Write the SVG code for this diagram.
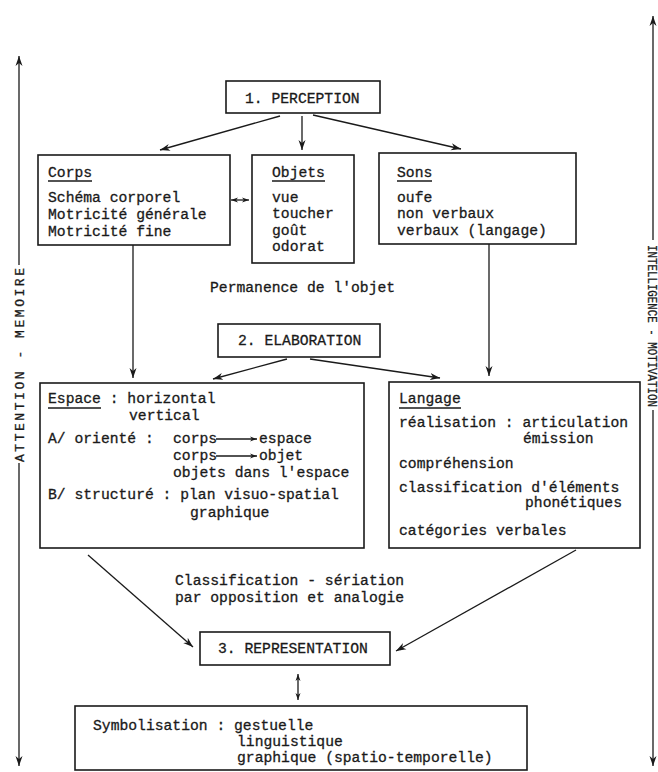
<svg xmlns="http://www.w3.org/2000/svg" width="658" height="772" viewBox="0 0 658 772">
<defs>
<style>
text{font-family:"Liberation Mono","DejaVu Sans Mono",monospace;font-size:14.7px;fill:#1a1a1a;stroke:#1a1a1a;stroke-width:0.3}
.box{fill:none;stroke:#1a1a1a;stroke-width:1.6}
.ln{fill:none;stroke:#1a1a1a;stroke-width:1.3}
.ul{stroke:#1a1a1a;stroke-width:1.4}
.side{font-size:13px}
</style>
<marker id="ah" markerUnits="userSpaceOnUse" markerWidth="11" markerHeight="8" refX="10" refY="4" orient="auto-start-reverse">
<path d="M0,0.5 L10,4 L0,7.5 L3,4 z" fill="#1a1a1a"/>
</marker>
<marker id="sm" markerUnits="userSpaceOnUse" markerWidth="8" markerHeight="6" refX="7" refY="3" orient="auto-start-reverse">
<path d="M0,0.5 L7,3 L0,5.5 L2,3 z" fill="#1a1a1a"/>
</marker>
</defs>
<rect width="658" height="772" fill="#ffffff"/>

<g id="connectors">
<line class="ln" x1="280" y1="116" x2="160" y2="150" marker-end="url(#ah)"/>
<line class="ln" x1="302" y1="116" x2="302" y2="150" marker-end="url(#ah)"/>
<line class="ln" x1="313" y1="115" x2="461" y2="149" marker-end="url(#ah)"/>
<line class="ln" x1="231" y1="200" x2="249" y2="200" marker-start="url(#sm)" marker-end="url(#sm)"/>
<line class="ln" x1="133" y1="245" x2="133" y2="378" marker-end="url(#ah)"/>
<line class="ln" x1="489" y1="244" x2="489" y2="376" marker-end="url(#ah)"/>
<line class="ln" x1="287" y1="359" x2="213" y2="379" marker-end="url(#ah)"/>
<line class="ln" x1="310" y1="359" x2="440" y2="378" marker-end="url(#ah)"/>
<line class="ln" x1="88" y1="555" x2="193" y2="647" marker-end="url(#ah)"/>
<line class="ln" x1="576" y1="550" x2="396" y2="651" marker-end="url(#ah)"/>
<line class="ln" x1="298" y1="674" x2="298" y2="700" marker-start="url(#sm)" marker-end="url(#sm)"/>
<line class="ln" x1="19" y1="265" x2="19" y2="56" marker-end="url(#ah)"/>
<line class="ln" x1="19" y1="463" x2="19" y2="766" marker-end="url(#ah)"/>
<line class="ln" x1="653" y1="240" x2="653" y2="16" marker-end="url(#ah)"/>
<line class="ln" x1="653" y1="410" x2="653" y2="766" marker-end="url(#ah)"/>
</g>

<g id="side-left">
<text class="side" transform="translate(24,462) rotate(-90)" textLength="194" lengthAdjust="spacing">ATTENTION - MEMOIRE</text>
</g>
<g id="side-right">
<text class="side" transform="translate(648,245) rotate(90)" textLength="162" lengthAdjust="spacingAndGlyphs">INTELLIGENCE - MOTIVATION</text>
</g>

<g id="perception">
<rect class="box" x="226" y="81" width="154" height="32"/>
<text x="245" y="103">1. PERCEPTION</text>
</g>

<g id="corps">
<rect class="box" x="38" y="155" width="192" height="90"/>
<text x="48" y="177">Corps</text>
<line class="ul" x1="48" y1="181" x2="92" y2="181"/>
<text x="48" y="202">Schéma corporel</text>
<text x="48" y="219">Motricité générale</text>
<text x="48" y="236">Motricité fine</text>
</g>

<g id="objets">
<rect class="box" x="252" y="155" width="102" height="108"/>
<text x="272" y="177">Objets</text>
<line class="ul" x1="272" y1="181" x2="325" y2="181"/>
<text x="272" y="202">vue</text>
<text x="272" y="218">toucher</text>
<text x="272" y="235">goût</text>
<text x="272" y="251">odorat</text>
</g>

<g id="sons">
<rect class="box" x="379" y="153" width="197" height="91"/>
<text x="397" y="177">Sons</text>
<line class="ul" x1="397" y1="181" x2="432" y2="181"/>
<text x="397" y="202">oufe</text>
<text x="397" y="218">non verbaux</text>
<text x="397" y="235">verbaux (langage)</text>
</g>

<g id="permanence">
<text x="210" y="292">Permanence de l'objet</text>
</g>

<g id="elaboration">
<rect class="box" x="218" y="324" width="162" height="33"/>
<text x="238" y="345">2. ELABORATION</text>
</g>

<g id="espace">
<rect class="box" x="40" y="383" width="324" height="165"/>
<text x="48" y="403" xml:space="preserve">Espace : horizontal</text>
<line class="ul" x1="48" y1="408" x2="101" y2="408" stroke-width="1.8"/>
<text x="129" y="420">vertical</text>
<text x="48" y="443">A/ orienté :</text>
<text x="173" y="443">corps</text>
<line class="ln" x1="216" y1="439" x2="257" y2="439" marker-end="url(#sm)"/>
<text x="259" y="443">espace</text>
<text x="173" y="460">corps</text>
<line class="ln" x1="216" y1="456" x2="257" y2="456" marker-end="url(#sm)"/>
<text x="259" y="460">objet</text>
<text x="173" y="477">objets dans l'espace</text>
<text x="48" y="499">B/ structuré : plan visuo-spatial</text>
<text x="190" y="517">graphique</text>
</g>

<g id="langage">
<rect class="box" x="389" y="382" width="251" height="166"/>
<text x="399" y="403">Langage</text>
<line class="ul" x1="399" y1="408" x2="461" y2="408"/>
<text x="399" y="427">réalisation : articulation</text>
<text x="523" y="443">émission</text>
<text x="399" y="468">compréhension</text>
<text x="399" y="492">classification d'éléments</text>
<text x="622" y="507" text-anchor="end">phonétiques</text>
<text x="399" y="535">catégories verbales</text>
</g>

<g id="classification">
<text x="175" y="585">Classification - sériation</text>
<text x="175" y="602">par opposition et analogie</text>
</g>

<g id="representation">
<rect class="box" x="200" y="632" width="190" height="33"/>
<text x="218" y="653">3. REPRESENTATION</text>
</g>

<g id="symbolisation">
<rect class="box" x="75" y="706" width="452" height="64"/>
<text x="93" y="730">Symbolisation : gestuelle</text>
<text x="237" y="746">linguistique</text>
<text x="237" y="762">graphique (spatio-temporelle)</text>
</g>
</svg>
